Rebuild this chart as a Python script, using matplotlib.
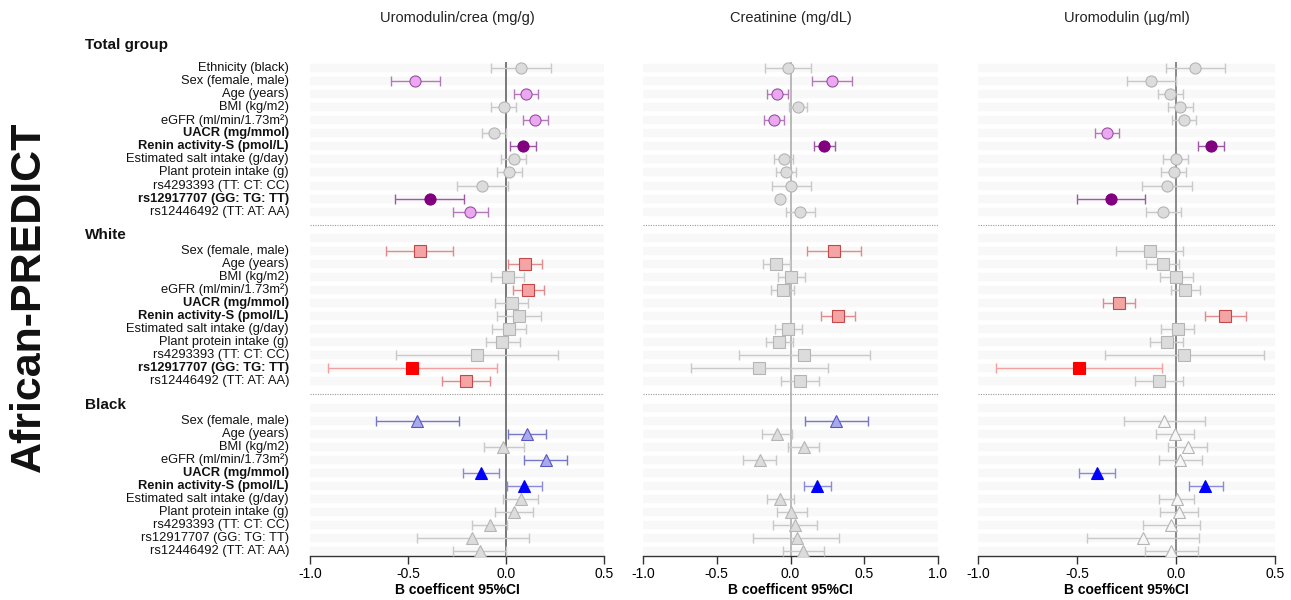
import numpy as np
import matplotlib
matplotlib.use("Agg")
import matplotlib.pyplot as plt
import matplotlib.transforms as mtransforms

plt.rcParams['font.family'] = ['Liberation Sans', 'DejaVu Sans']

# ---------------------------------------------------------------- data
total_vars = ['Ethnicity (black)', 'Sex (female, male)', 'Age (years)', 'BMI (kg/m2)',
              'eGFR (ml/min/1.73m²)', 'UACR (mg/mmol)', 'Renin activity-S (pmol/L)',
              'Estimated salt intake (g/day)', 'Plant protein intake (g)',
              'rs4293393 (TT: CT: CC)', 'rs12917707 (GG: TG: TT)', 'rs12446492 (TT: AT: AA)']
sub_vars = total_vars[1:]
bold_total = ['UACR (mg/mmol)', 'Renin activity-S (pmol/L)', 'rs12917707 (GG: TG: TT)']
bold_white = ['UACR (mg/mmol)', 'Renin activity-S (pmol/L)', 'rs12917707 (GG: TG: TT)']
bold_black = ['UACR (mg/mmol)', 'Renin activity-S (pmol/L)']

outcomes = ['Uromodulin/crea (mg/g)', 'Creatinine (mg/dL)', 'Uromodulin (µg/ml)']
group_names = ['Total group', 'White', 'Black']

# sig: 0 = not significant, 1 = significant, 2 = highlighted
# Uromodulin/crea
uc_total_b = [0.076, -0.464, 0.102, -0.012, 0.148, -0.06, 0.086, 0.04, 0.016, -0.12, -0.39, -0.182]
uc_total_lo = [-0.074, -0.586, 0.04, -0.074, 0.086, -0.12, 0.022, -0.024, -0.048, -0.248, -0.566, -0.27]
uc_total_hi = [0.232, -0.336, 0.164, 0.05, 0.212, 0.0, 0.154, 0.1, 0.082, 0.01, -0.214, -0.09]
uc_total_sig = [0, 1, 1, 0, 1, 0, 2, 0, 0, 0, 2, 1]

uc_white_b = [-0.44, 0.096, 0.01, 0.112, 0.03, 0.068, 0.016, -0.02, -0.146, -0.48, -0.204]
uc_white_lo = [-0.614, 0.012, -0.078, 0.034, -0.054, -0.044, -0.072, -0.104, -0.56, -0.91, -0.328]
uc_white_hi = [-0.268, 0.186, 0.094, 0.192, 0.112, 0.178, 0.102, 0.07, 0.266, -0.048, -0.08]
uc_white_sig = [1, 1, 0, 1, 0, 0, 0, 0, 0, 2, 1]

uc_black_b = [-0.454, 0.106, -0.014, 0.202, -0.128, 0.094, 0.076, 0.04, -0.084, -0.174, -0.132]
uc_black_lo = [-0.664, 0.008, -0.11, 0.092, -0.218, 0.006, -0.016, -0.056, -0.176, -0.456, -0.268]
uc_black_hi = [-0.24, 0.204, 0.09, 0.31, -0.036, 0.186, 0.164, 0.14, 0.006, 0.116, 0.0]
uc_black_sig = [1, 1, 0, 1, 2, 2, 0, 0, 0, 0, 0]

# Creatinine (no UACR model)
cr_total_b = [-0.018, 0.284, -0.09, 0.052, -0.113, None, 0.227, -0.045, -0.03, 0.005, -0.07, 0.065]
cr_total_lo = [-0.176, 0.149, -0.158, -0.009, -0.178, None, 0.16, -0.11, -0.097, -0.128, None, -0.032]
cr_total_hi = [0.14, 0.414, -0.018, 0.115, -0.045, None, 0.3, 0.02, 0.034, 0.14, None, 0.164]
cr_total_sig = [0, 1, 1, 0, 1, 0, 2, 0, 0, 0, 0, 0]

cr_white_b = [0.295, -0.099, 0.005, -0.052, None, 0.322, -0.014, -0.079, 0.092, -0.212, 0.063]
cr_white_lo = [0.115, -0.189, -0.083, -0.135, None, 0.207, -0.104, -0.169, -0.349, -0.673, -0.065]
cr_white_hi = [0.475, -0.005, 0.097, 0.027, None, 0.439, 0.081, 0.014, 0.536, 0.252, 0.196]
cr_white_sig = [1, 0, 0, 0, 0, 1, 0, 0, 0, 0, 0]

cr_black_b = [0.309, -0.09, 0.09, -0.205, None, 0.182, -0.068, 0.005, 0.029, 0.041, 0.088]
cr_black_lo = [0.095, -0.194, -0.016, -0.322, None, 0.092, -0.162, -0.092, -0.122, -0.255, -0.054]
cr_black_hi = [0.523, 0.009, 0.191, -0.097, None, 0.273, 0.025, 0.11, 0.18, 0.327, 0.225]
cr_black_sig = [1, 0, 0, 0, 0, 2, 0, 0, 0, 0, 0]

# Uromodulin
um_total_b = [0.098, -0.125, -0.029, 0.022, 0.042, -0.348, 0.177, -0.002, -0.01, -0.047, -0.328, -0.064]
um_total_lo = [-0.052, -0.25, -0.093, -0.039, -0.019, -0.409, 0.113, -0.064, -0.074, -0.172, -0.502, -0.154]
um_total_hi = [0.248, 0.0, 0.034, 0.084, 0.103, -0.287, 0.243, 0.059, 0.052, 0.083, -0.155, 0.024]
um_total_sig = [0, 0, 0, 0, 0, 1, 2, 0, 0, 0, 2, 0]

um_white_b = [-0.133, -0.068, 0.0, 0.047, -0.289, 0.247, 0.01, -0.047, 0.042, -0.49, -0.088]
um_white_lo = [-0.301, -0.149, -0.081, -0.027, -0.37, 0.144, -0.078, -0.132, -0.361, -0.91, -0.208]
um_white_hi = [0.037, 0.017, 0.084, 0.122, -0.208, 0.355, 0.093, 0.034, 0.446, -0.071, 0.034]
um_white_sig = [0, 0, 0, 0, 1, 1, 0, 0, 0, 2, 0]

um_black_b = [-0.059, -0.003, 0.059, 0.022, -0.397, 0.147, 0.005, 0.017, -0.025, -0.166, -0.025]
um_black_lo = [-0.265, -0.1, -0.039, -0.088, -0.488, 0.064, -0.084, -0.083, -0.166, -0.448, -0.157]
um_black_hi = [0.145, 0.093, 0.159, 0.133, -0.306, 0.235, 0.093, 0.113, 0.123, 0.118, 0.11]
um_black_sig = [0, 0, 0, 0, 2, 2, 0, 0, 0, 0, 0]

xlims = [(-1.0, 0.5), (-1.0, 1.0), (-1.0, 0.5)]

panels = [
    [(uc_total_b, uc_total_lo, uc_total_hi, uc_total_sig),
     (uc_white_b, uc_white_lo, uc_white_hi, uc_white_sig),
     (uc_black_b, uc_black_lo, uc_black_hi, uc_black_sig)],
    [(cr_total_b, cr_total_lo, cr_total_hi, cr_total_sig),
     (cr_white_b, cr_white_lo, cr_white_hi, cr_white_sig),
     (cr_black_b, cr_black_lo, cr_black_hi, cr_black_sig)],
    [(um_total_b, um_total_lo, um_total_hi, um_total_sig),
     (um_white_b, um_white_lo, um_white_hi, um_white_sig),
     (um_black_b, um_black_lo, um_black_hi, um_black_sig)],
]

# ---------------------------------------------------------------- styles
GREY = ('#dcdcdc', '#b5b5b5', '#c9c9c9')   # fill, edge, errorbar
group_styles = [
    dict(marker='o', ms=8, colors={0: GREY,
                                   1: ('#eaa8f0', '#9a4ea4', '#b27ab9'),
                                   2: ('#800080', '#800080', '#9b5aa2')}),
    dict(marker='s', ms=8, colors={0: GREY,
                                   1: ('#f4a4a4', '#c44848', '#e08c8c'),
                                   2: ('#ff0000', '#ff0000', '#f2a0a0')}),
    dict(marker='^', ms=8.5, colors={0: GREY,
                                     1: ('#a9a9ec', '#5656c4', '#7777c8'),
                                     2: ('#0000ff', '#0000ff', '#8a8ad8')}),
]

# row positions (index units, 0 = first row, increasing downwards)
group_rows = [np.arange(0, 12), np.arange(14, 25), np.arange(27, 38)]
header_rows = [-1.75, 12.8, 25.8]
stripe_rows = list(range(0, 12)) + list(range(13, 25)) + list(range(26, 38))
dotted_rows = [12, 25]
YTOP, YBOT = -2.53, 37.37

W, H = 1291, 600
fig = plt.figure(figsize=(W / 100, H / 100), dpi=100)
ax_px = [(310, 294), (643, 295), (978, 297)]
top_px, bot_px = 35, 556

axes = []
for (left, width) in ax_px:
    ax = fig.add_axes([left / W, 1 - bot_px / H, width / W, (bot_px - top_px) / H])
    axes.append(ax)

zero_colors = ['#555555', '#a8a8a8', '#6a6a6a']

for p, ax in enumerate(axes):
    x0, x1 = xlims[p]
    ax.set_xlim(x0, x1)
    ax.set_ylim(YBOT, YTOP)

    # background stripes and separators
    ax.hlines(stripe_rows, x0, x1, color='#f8f8f8', lw=6, zorder=0)
    ax.hlines(dotted_rows, x0, x1, color='#9a9a9a', lw=0.8, linestyles=(0, (1, 1.2)), zorder=1)
    ax.vlines(0, -0.45, YBOT, color=zero_colors[p], lw=1.1, zorder=2)

    for g in range(3):
        b, lo, hi, sig = panels[p][g]
        st = group_styles[g]
        rows = group_rows[g]
        for i in range(len(b)):
            if b[i] is None:
                continue
            fill, edge, ecol = st['colors'][sig[i]]
            if p == 2 and g == 2 and sig[i] == 0:
                fill = '#f7f7f7'
            if lo[i] is not None:
                ax.errorbar(b[i], rows[i], xerr=[[b[i] - lo[i]], [hi[i] - b[i]]],
                            fmt='none', ecolor=ecol, elinewidth=1.0,
                            capsize=3.5, capthick=1.0, zorder=3)
            ax.plot(b[i], rows[i], linestyle='none', marker=st['marker'],
                    ms=st['ms'], mfc=fill, mec=edge, mew=0.8, zorder=4)

    # axis cosmetics
    for side in ['top', 'left', 'right']:
        ax.spines[side].set_visible(False)
    ax.spines['bottom'].set_color('#333333')
    ax.spines['bottom'].set_linewidth(1.0)
    ax.set_xticks(np.arange(x0, x1 + 0.01, 0.5))
    ax.set_xticklabels([f'{v:.1f}' for v in np.arange(x0, x1 + 0.01, 0.5)])
    ax.tick_params(axis='x', direction='out', length=6, width=1.0, color='#333333',
                   labelsize=10, pad=2)
    ax.set_yticks([])
    ax.set_xlabel('B coefficent 95%CI', fontsize=10, fontweight='bold', labelpad=1.5)
    ax.patch.set_alpha(0)

    # column title
    fig.text((ax_px[p][0] + ax_px[p][1] / 2) / W, 1 - 18 / H, outcomes[p],
             ha='center', va='center', fontsize=10.5, color='#222222')

# row labels and group headers on the left of the first panel
ax = axes[0]
trans = mtransforms.blended_transform_factory(fig.transFigure, ax.transData)
label_sets = [(total_vars, bold_total), (sub_vars, bold_white), (sub_vars, bold_black)]
for g, (labels, bolds) in enumerate(label_sets):
    for lab, r in zip(labels, group_rows[g]):
        ax.text(289 / W, r, lab, transform=trans, ha='right', va='center',
                fontsize=9.3, fontweight='bold' if lab in bolds else 'normal',
                color='#111111')
    ax.text(85 / W, header_rows[g], group_names[g], transform=trans, ha='left',
            va='center', fontsize=11, fontweight='bold', color='#111111')

fig.text(29 / W, 1 - 297 / H, 'African-PREDICT', rotation=90, ha='center', va='center',
         fontsize=31, fontweight='bold', color='#111111')

fig.savefig('out.png', dpi=100, facecolor='white')
